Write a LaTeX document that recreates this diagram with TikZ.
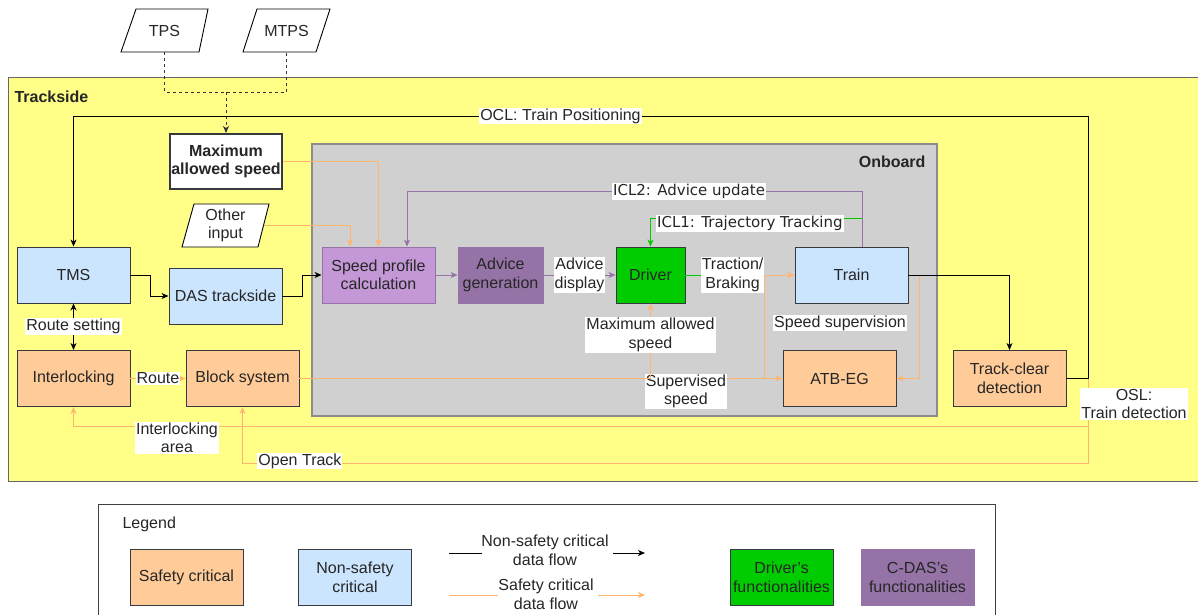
\documentclass[tikz,border=0pt]{standalone}
\usepackage{fontspec}
\setmainfont{Liberation Sans}
\newfontfamily\dejavu{DejaVu Sans}
\usetikzlibrary{arrows.meta}
\newcommand\myfs{\fontsize{16}{18.5}\selectfont}
\newcommand\iclfs{\fontsize{15}{18}\selectfont}
\definecolor{tsyellow}{HTML}{FFFF88}
\definecolor{tsborder}{HTML}{666666}
\definecolor{obgray}{HTML}{D0D0D0}
\definecolor{obborder}{HTML}{8C8C8C}
\definecolor{safeor}{HTML}{FFCC99}
\definecolor{nsblue}{HTML}{CCE5FF}
\definecolor{drgreen}{HTML}{00CC00}
\definecolor{cdaspurple}{HTML}{9673A6}
\definecolor{spcpurple}{HTML}{C497D6}
\definecolor{orline}{HTML}{FFB570}
\definecolor{bordergray}{HTML}{36393D}
\begin{document}
\begin{tikzpicture}[x=1pt,y=-1pt,
  base/.style={font=\myfs, text=black!85},
  blk/.style={base, draw=bordergray, line width=0.9pt, minimum width=113pt, minimum height=56pt, inner sep=1pt, align=center},
  safe/.style={blk, fill=safeor},
  nsafe/.style={blk, fill=nsblue},
  lbl/.style={base, fill=white, inner sep=1pt, align=center},
  icl/.style={lbl, font=\dejavu\iclfs},
  parash/.style={draw=black, line width=0.9pt, fill=white},
  arr/.style={-{Stealth[length=7pt,width=6pt,inset=2pt]}},
  bkl/.style={draw=black, line width=1pt},
  orl/.style={draw=orline, line width=1pt},
  pul/.style={draw=cdaspurple, line width=1pt},
  grl/.style={draw=drgreen, line width=1pt},
  dashl/.style={draw=black!80, line width=0.9pt, dash pattern=on 3pt off 3pt}
]
\useasboundingbox (0,0) rectangle (1198,614);
\fill[white] (0,0) rectangle (1198,614);
% trackside area
\draw[draw=tsborder, fill=tsyellow, line width=1pt] (8,77) rectangle (1206,481);
\node[base, font=\myfs\bfseries, anchor=west] (tslabel) at (11,97) {Trackside};
% onboard area
\draw[draw=obborder, fill=obgray, line width=1.2pt] (312,144) rectangle (937,416);
\node[base, font=\myfs\bfseries, anchor=east] (oblabel) at (929,162) {Onboard};

% parallelograms
\draw[parash] (121,52) -- (136,9) -- (208,9) -- (199,52) -- cycle;
\node[base, minimum width=80pt, minimum height=43pt, inner sep=0pt] (tps) at (164.5,30.5) {TPS};
\draw[parash] (243,52) -- (257,9) -- (330,9) -- (316,52) -- cycle;
\node[base, minimum width=80pt, minimum height=43pt, inner sep=0pt] (mtps) at (286.5,30.5) {MTPS};
\draw[parash] (182,247) -- (194,204) -- (269,204) -- (258,247) -- cycle;
\node[base, align=center, minimum width=76pt, minimum height=43pt, inner sep=0pt] (oi) at (225.5,225.5) {Other\\input};

% boxes
\node[blk, fill=white, line width=2pt, font=\myfs\bfseries, minimum width=112pt, minimum height=55pt] (mas) at (226,161.5) {Maximum\\allowed speed};
\node[nsafe] (tms) at (73.5,275) {TMS};
\node[nsafe] (das) at (225.5,296) {DAS trackside};
\node[safe] (il) at (73.5,378.5) {Interlocking};
\node[safe] (bs) at (242.5,378.5) {Block system};
\node[blk, fill=spcpurple, draw=cdaspurple] (spc) at (378.5,275) {Speed profile\\calculation};
\node[blk, fill=cdaspurple, draw=cdaspurple, minimum width=85pt] (adv) at (500.5,275) {Advice\\generation};
\node[blk, fill=drgreen, minimum width=69pt] (drv) at (650.5,275) {Driver};
\node[nsafe] (train) at (851.5,275) {Train};
\node[safe] (atb) at (839.5,378.5) {ATB-EG};
\node[safe] (tc) at (1009.5,378.5) {Track-clear\\detection};

% coordinates for free bends
\coordinate (dj) at (226,92);
\coordinate (tbj) at (764,275);
\coordinate (osl) at (1088,378.5);
\coordinate (ocltop) at (1088,116);
\coordinate (oia) at (1088,426);
\coordinate (oot) at (1088,463);

% dashed inputs
\draw[dashl] (tps.south) |- (dj) -| (mtps.south);
\draw[dashl, arr] (dj) -- (mas.north);

% OCL
\draw[bkl, arr] (tc.east) -- (osl) -- (ocltop) -| node[lbl, pos=0.26] {OCL: Train Positioning} (tms.north);
% OSL
\draw[orl, arr] (osl) -- (oia) -| node[lbl, pos=0.449, yshift=-12pt] {Interlocking\\area} (il.south);
\draw[orl, arr] (osl) -- (oot) -| node[lbl, pos=0.466, yshift=2pt] {Open Track} (bs.south);
\node[lbl] (osllbl) at (1134,404) {OSL:\\Train detection};

% trackside flows
\draw[bkl, arr] (tms.east) -- ++(20,0) |- (das.west);
\draw[bkl, arr] (das.east) -- ++(20,0) |- (spc.west);
\draw[bkl, {Stealth[length=7pt,width=6pt,inset=2pt]}-{Stealth[length=7pt,width=6pt,inset=2pt]}] (tms) -- node[lbl] {Route setting} (il);
\draw[orl, arr] (il) -- node[lbl] {Route} (bs);

% inputs to speed profile
\draw[orl, arr] (mas.east) -| (spc.north);
\draw[orl, arr] (oi.east) -| ([xshift=-28.5pt]spc.north);

% onboard flows
\draw[pul, arr] (spc) -- (adv);
\draw[pul, arr] (adv) -- node[lbl] {Advice\\display} (drv);
\draw[grl] (drv.east) -- node[lbl, pos=0.6] {Traction/\\Braking} (tbj);
\draw[orl, arr] (bs.east) -| (tbj) -- (train.west);
\draw[orl, arr] (bs.east) -- node[lbl, pos=0.8, yshift=-13pt] {Supervised\\speed} (atb.west);
\draw[orl, arr] (bs.east) -| node[lbl, pos=0.79] {Maximum allowed\\speed} (drv.south);
\draw[orl, arr] (train.east) -- ++(11,0) |- (atb.east);
\node[lbl] (sslbl) at (840,323) {Speed supervision};
\draw[bkl, arr] (train.east) -| (tc.north);

% ICL loops
\draw[grl, arr] ([xshift=10.5pt]train.north) -- ++(0,-28) -| node[icl, pos=0.265, yshift=-5pt] {ICL1: Trajectory Tracking} (drv.north);
\draw[pul, arr] ([xshift=10.5pt]train.north) -- ++(0,-55) -| node[icl, pos=0.19] {ICL2: Advice update} ([xshift=28.5pt]spc.north);

% legend
\draw[draw=black!75, line width=1pt] (98,640) -- (98,504) -- (995,504) -- (995,640);
\node[base, anchor=west] (leg) at (119,524) {Legend};
\node[safe] (lsafe) at (186.5,577.5) {Safety critical};
\node[nsafe] (lnsafe) at (355,577.5) {Non-safety\\critical};
\node[base, align=center] (lnsf) at (545,550.5) {Non-safety critical\\data flow};
\draw[bkl] (449,553) -- (482,553);
\draw[bkl, arr] (613,553) -- (645,553);
\node[base, align=center] (lsf) at (546,594.5) {Safety critical\\data flow};
\draw[orl] (449,595) -- (498,595);
\draw[orl, arr] (598,595) -- (645,595);
\node[blk, fill=drgreen, minimum width=103pt] (ldr) at (781.5,577.5) {Driver's\\functionalities};
\node[blk, fill=cdaspurple, draw=cdaspurple] (lcdas) at (917.5,577.5) {C-DAS's\\functionalities};
\end{tikzpicture}
\end{document}
